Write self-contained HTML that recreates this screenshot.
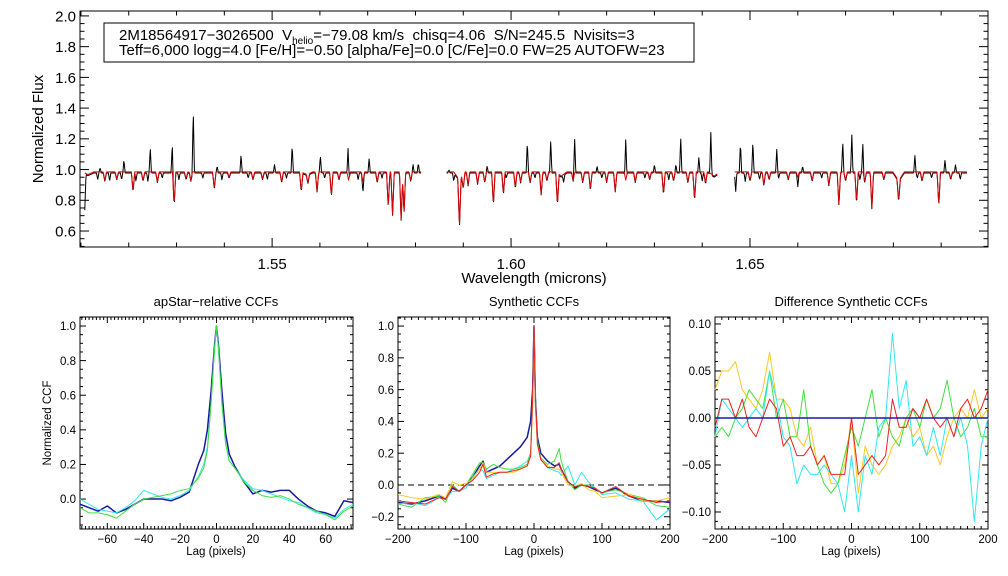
<!DOCTYPE html>
<html><head><meta charset="utf-8"><style>
html,body{margin:0;padding:0;background:#fff;}
svg{display:block;font-family:"Liberation Sans",sans-serif;}
</style></head><body>
<svg id="fig" width="1008" height="576" viewBox="0 0 1008 576">
<rect x="0" y="0" width="1008" height="576" fill="#fff"/>
</svg>
<script>
// ---------- spectrum data ----------
const segStart = [1.5108, 1.5865, 1.6468];
const segEnd   = [1.5812, 1.6432, 1.6955];
const spikeWl   = [1.5190,1.5245,1.5291,1.5335,1.5435,1.5542,1.5601,1.5659,1.5703,1.5806,1.6034,1.6083,1.6133,1.6240,1.6355,1.6393,1.6418,1.6480,1.6506,1.6556,1.6694,1.6713,1.6736,1.6845,1.6908,1.5140,1.5385,1.5505,1.5950,1.6180,1.6300,1.6610,1.5795,1.5870,1.6345,1.6930];
const spikeFlux = [1.07,1.15,1.17,1.75,1.19,1.17,1.10,1.19,1.08,1.05,1.19,1.20,1.22,1.26,1.22,1.09,1.26,1.29,1.19,1.14,1.19,1.24,1.18,1.10,1.07,1.02,1.03,1.04,1.03,1.03,1.04,1.03,1.04,1.07,1.04,1.04];
const absWl    = [1.5209,1.5295,1.5379,1.5561,1.5594,1.5624,1.5743,1.5752,1.5770,1.5776,1.5892,1.5963,1.5984,1.6009,1.6063,1.6097,1.6166,1.6218,1.6319,1.6384,1.6407,1.6529,1.6665,1.6686,1.6723,1.6755,1.6811,1.6895,1.5150,1.5260,1.5330,1.5480,1.5520,1.5660,1.5690,1.5910,1.5930,1.6040,1.6130,1.6200,1.6260,1.6340,1.6500,1.6580,1.6630,1.6780,1.6860,1.5175,1.5230,1.5320,1.5410,1.5460,1.5575,1.5640,1.5720,1.5790,1.5900,1.5945,1.6020,1.6075,1.6150,1.6240,1.6290,1.6370,1.6540,1.6600,1.6700,1.6740,1.6920];
const absFlux  = [0.86,0.77,0.88,0.86,0.86,0.83,0.76,0.70,0.67,0.72,0.68,0.77,0.84,0.88,0.84,0.78,0.87,0.86,0.84,0.80,0.91,0.90,0.90,0.77,0.78,0.75,0.85,0.77,0.93,0.92,0.93,0.94,0.92,0.93,0.92,0.90,0.91,0.92,0.93,0.92,0.92,0.93,0.93,0.94,0.93,0.94,0.93,0.94,0.93,0.94,0.95,0.94,0.93,0.94,0.92,0.93,0.90,0.92,0.92,0.93,0.92,0.93,0.94,0.92,0.94,0.95,0.93,0.92,0.94];
const broadWl   = [1.5892,1.6105,1.6811,1.5573,1.6425,1.5115];
const broadFlux = [0.88,0.93,0.87,0.95,0.93,0.95];
const dipWl   = [1.5108,1.5335,1.5435,1.6470,1.6480,1.5240,1.5690,1.6600,1.5135,1.5160,1.5185,1.5215,1.5270,1.5305,1.5355,1.5395,1.5450,1.5490,1.5530,1.5610,1.5680,1.5730,1.5870,1.5880,1.5990,1.6050,1.6110,1.6190,1.6280,1.6330,1.6400,1.6490,1.6520,1.6560,1.6650,1.6730,1.6850,1.6880,1.6940];
const dipFlux = [0.75,0.63,0.90,0.86,0.88,0.93,0.92,0.93,0.94,0.93,0.94,0.93,0.95,0.94,0.95,0.94,0.95,0.94,0.95,0.95,0.94,0.95,0.92,0.93,0.95,0.95,0.94,0.95,0.95,0.94,0.93,0.93,0.94,0.95,0.95,0.94,0.95,0.95,0.94];
// ---------- CCF data ----------
const lag1 = [-75,-70,-65,-60,-55,-50,-45,-40,-35,-30,-25,-20,-15,-10,-7,-5,-3,-1,0,1,3,5,7,10,15,20,25,30,35,40,45,50,55,60,65,70,75];
const ccf1Blue  = [-0.03,-0.05,-0.07,-0.04,-0.08,-0.06,-0.03,0.0,0.0,0.0,-0.01,0.01,0.04,0.20,0.28,0.40,0.62,0.90,1.0,0.90,0.62,0.38,0.26,0.19,0.10,0.03,0.05,0.04,0.05,0.05,0.0,-0.04,-0.07,-0.08,-0.10,-0.01,-0.02];
const ccf1Cyan  = [0.0,-0.03,-0.06,-0.07,-0.08,-0.05,-0.01,0.05,0.03,0.01,0.0,0.02,0.05,0.13,0.20,0.30,0.55,0.88,1.0,0.88,0.55,0.32,0.22,0.18,0.11,0.06,0.05,0.03,0.01,-0.01,-0.02,-0.05,-0.08,-0.09,-0.11,-0.06,-0.03];
const ccf1Green = [-0.05,-0.08,-0.08,-0.09,-0.11,-0.07,-0.03,0.0,0.01,0.02,0.03,0.05,0.06,0.12,0.18,0.28,0.55,0.88,1.0,0.88,0.55,0.32,0.22,0.18,0.10,0.05,0.02,0.01,0.02,0.0,-0.03,-0.05,-0.07,-0.09,-0.12,-0.07,-0.04];
const lag2 = [-200,-180,-160,-140,-130,-120,-110,-100,-90,-80,-75,-70,-60,-50,-40,-30,-20,-10,-5,-2,0,2,5,10,20,30,37,40,50,60,70,80,90,100,120,140,160,180,200];
const ccf2Blue  = [-0.11,-0.12,-0.10,-0.07,-0.09,-0.02,-0.04,0.0,0.05,0.12,0.15,0.08,0.10,0.12,0.16,0.20,0.24,0.30,0.40,0.60,1.0,0.55,0.30,0.20,0.15,0.12,0.13,0.10,0.02,-0.02,0.0,-0.01,-0.03,-0.05,-0.02,-0.07,-0.10,-0.10,-0.11];
const ccf2Cyan  = [-0.12,-0.11,-0.13,-0.08,-0.09,-0.04,-0.04,-0.02,0.05,0.10,0.09,0.04,0.06,0.08,0.08,0.10,0.12,0.15,0.20,0.50,0.95,0.50,0.25,0.16,0.11,0.09,0.08,0.06,0.12,0.0,0.08,0.02,-0.02,-0.06,-0.05,-0.09,-0.10,-0.22,-0.15];
const ccf2Green = [-0.12,-0.14,-0.08,-0.07,-0.11,0.0,-0.04,0.0,0.07,0.14,0.14,0.10,0.13,0.11,0.10,0.10,0.11,0.13,0.20,0.55,0.98,0.55,0.28,0.17,0.13,0.15,0.23,0.15,0.02,-0.03,0.0,0.0,-0.02,-0.05,-0.03,-0.06,-0.08,-0.13,-0.14];
const ccf2Gold  = [-0.06,-0.08,-0.09,-0.06,-0.08,0.02,0.0,0.01,0.04,0.10,0.14,0.08,0.08,0.08,0.08,0.08,0.10,0.12,0.18,0.50,0.98,0.52,0.25,0.16,0.12,0.10,0.10,0.08,0.0,-0.01,0.01,-0.03,-0.04,-0.08,-0.07,-0.06,-0.10,-0.10,-0.08];
const ccf2Red   = [-0.10,-0.11,-0.12,-0.08,-0.09,-0.01,-0.04,0.0,0.03,0.08,0.13,0.05,0.07,0.08,0.08,0.09,0.10,0.12,0.18,0.55,1.0,0.55,0.26,0.16,0.11,0.11,0.14,0.10,0.02,-0.01,0.0,-0.01,-0.02,-0.05,-0.01,-0.07,-0.09,-0.11,-0.10];
const lag3 = [-200,-190,-180,-170,-160,-150,-140,-130,-120,-110,-100,-90,-80,-70,-60,-50,-40,-30,-20,-10,0,10,20,30,40,50,60,70,80,90,100,110,120,130,140,150,160,170,180,190,200];
const diffBlue  = [0,0,0,0,0,0,0,0,0,0,0,0,0,0,0,0,0,0,0,0,0,0,0,0,0,0,0,0,0,0,0,0,0,0,0,0,0,0,0,0,0];
const diffGold  = [0.03,0.05,0.05,0.06,0.03,0.02,0.01,0.03,0.07,0.02,0.02,0.01,-0.02,-0.03,-0.01,-0.05,-0.04,-0.07,-0.07,-0.05,0.0,-0.08,-0.03,-0.05,-0.06,-0.05,-0.03,-0.02,0.0,-0.02,-0.01,-0.04,-0.03,-0.05,-0.02,0.0,0.01,0.0,0.03,0.0,0.01];
const diffRed   = [-0.01,0.02,0.02,0.0,0.02,-0.01,-0.02,0.0,0.02,0.01,-0.03,-0.02,-0.04,-0.04,-0.03,-0.05,-0.04,-0.06,-0.06,-0.06,0.0,-0.06,-0.05,-0.04,-0.05,-0.04,0.02,-0.01,-0.01,0.01,0.0,0.02,0.0,-0.01,0.0,-0.02,0.01,0.02,0.0,0.01,0.03];
const diffGreen = [-0.02,-0.01,-0.02,0.0,0.01,0.03,0.02,0.01,0.05,0.0,0.02,-0.02,-0.02,0.03,-0.03,-0.05,-0.07,-0.08,-0.07,-0.04,-0.01,-0.03,0.0,0.03,-0.02,0.0,-0.02,-0.03,0.0,0.01,-0.01,0.02,0.0,0.01,0.04,0.0,-0.02,-0.01,0.01,-0.02,-0.02];
const diffCyan  = [-0.02,0.02,0.01,0.0,-0.01,0.0,0.01,0.0,0.05,0.02,-0.02,-0.03,-0.07,-0.05,-0.06,-0.06,-0.05,-0.06,-0.07,-0.10,-0.04,-0.10,-0.04,-0.06,-0.01,0.0,0.09,0.01,0.04,-0.03,-0.02,-0.04,-0.01,-0.04,0.0,-0.02,0.0,-0.03,-0.11,-0.03,0.0];

const NS='http://www.w3.org/2000/svg';
const svg=document.getElementById('fig');
function mk(tag,attrs,parent){const e=document.createElementNS(NS,tag);for(const k in attrs)e.setAttribute(k,attrs[k]);(parent||svg).appendChild(e);return e;}
function txt(s,x,y,size,anchor,parent){const t=mk('text',{x:x,y:y,'font-size':size,'text-anchor':anchor||'middle',fill:'#000'},parent);t.textContent=s;return t;}

function makeAxes(p){
  const g=mk('g',{});
  
  
  const sx=v=>p.x0+(v-p.xmin)/(p.xmax-p.xmin)*(p.x1-p.x0);
  const sy=v=>p.y1-(v-p.ymin)/(p.ymax-p.ymin)*(p.y1-p.y0);
  const ax=mk('g',{stroke:'#000','stroke-width':1,fill:'none'},g);
  
  
  mk('rect',{x:p.x0,y:p.y0,width:p.x1-p.x0,height:p.y1-p.y0},ax);
  const e=1e-9;
  for(let v=Math.ceil(p.xmin/p.xminor-e)*p.xminor;v<=p.xmax+e;v+=p.xminor){
    const maj=Math.abs(v/p.xmajor-Math.round(v/p.xmajor))<1e-6;const L=maj?p.tl:p.tl/2;const X=sx(v);
    mk('line',{x1:X,x2:X,y1:p.y1,y2:p.y1-L},ax);mk('line',{x1:X,x2:X,y1:p.y0,y2:p.y0+L},ax);
    if(maj && !(p.skipEdge && X>p.x1-3)){const t=txt(p.xfmt(v),X,p.y1+p.xlo,p.fs,'middle',g);}
  }
  for(let v=Math.ceil(p.ymin/p.yminor-e)*p.yminor;v<=p.ymax+e;v+=p.yminor){
    const maj=Math.abs(v/p.ymajor-Math.round(v/p.ymajor))<1e-6;const L=maj?p.tl:p.tl/2;const Y=sy(v);
    mk('line',{x1:p.x0,x2:p.x0+L,y1:Y,y2:Y},ax);mk('line',{x1:p.x1,x2:p.x1-L,y1:Y,y2:Y},ax);
    if(maj){const t=txt(p.yfmt(v),p.x0-4,Y+p.fs*0.36,p.fs,'end',g);}
  }
  return {g,sx,sy};
}
function fmt(d){return v=>{let s=(Math.abs(v)<1e-9?0:v).toFixed(d);return s.replace('-','\u2212');};}
function line(A,xs,ys,color,w,name,dash){
  let d='';xs.forEach((x,i)=>{d+=(i?'L':'M')+A.sx(x).toFixed(2)+','+A.sy(ys[i]).toFixed(2);});
  const p=mk('path',{d:d,stroke:color,'stroke-width':w||1,fill:'none','stroke-linejoin':'round'},A.g);
  if(dash)p.setAttribute('stroke-dasharray',dash);
  
  
  return p;
}

// ---------- top spectrum ----------
const T=makeAxes({name:'spectrum-panel',x0:80,x1:988,y0:11,y1:247,xmin:1.5098,xmax:1.6998,ymin:0.496,ymax:2.032,
  xmajor:0.05,xminor:0.01,ymajor:0.2,yminor:0.05,tl:9,fs:15,xlo:22,xfmt:fmt(2),yfmt:fmt(1),skipEdge:true});
function buildSpec(withObs){
  const segsX=[],segsY=[];
  for(let s=0;s<segStart.length;s++){
    const xs=[],ys=[];
    const step=1/9548;
    for(let w=segStart[s];w<=segEnd[s];w+=step){
      let f=withObs?0.978:0.985;
      absWl.forEach((a,i)=>{const dx=Math.abs(w-a)/0.00035;if(dx<1)f-=(0.985-absFlux[i])*(1-dx);});
      broadWl.forEach((a,i)=>{const dx=Math.abs(w-a)/0.0012;if(dx<1)f-=(0.985-broadFlux[i])*(1-dx)*0.5;});
      if(withObs){
        spikeWl.forEach((a,i)=>{const dx=Math.abs(w-a)/0.00025;if(dx<1)f+=(spikeFlux[i]-0.985)*(1-dx);});
        dipWl.forEach((a,i)=>{const dx=Math.abs(w-a)/0.00025;if(dx<1)f-=(0.985-dipFlux[i])*(1-dx);});
      }
      xs.push(w);ys.push(f);
    }
    segsX.push(xs);segsY.push(ys);
  }
  return [segsX,segsY];
}
const obs=buildSpec(true);
obs[0].forEach((xs,i)=>{line(T,xs,obs[1][i],'#000',1,'observed-spectrum-seg'+(i+1));});
const mod=buildSpec(false);
mod[0].forEach((xs,i)=>{line(T,xs,mod[1][i],'#e00000',1,'model-spectrum-seg'+(i+1));});
let t;
t=txt('Wavelength (microns)',534,283,15,'middle');
t=txt('Normalized Flux',0,0,15,'middle');t.setAttribute('transform','translate(43,129) rotate(-90)');
const box=mk('g',{});


mk('rect',{x:104,y:23,width:590,height:39,fill:'#fff',stroke:'#000','stroke-width':1},box);
const l1=mk('text',{x:119,y:40,'font-size':15,fill:'#000'},box);
l1.innerHTML='2M18564917\u22123026500\u00a0\u00a0V<tspan font-size="10" dy="4">helio</tspan><tspan dy="-4">=\u221279.08 km/s\u00a0\u00a0chisq=4.06\u00a0\u00a0S/N=245.5\u00a0\u00a0Nvisits=3</tspan>';
const l2=txt('Teff=6,000 logg=4.0 [Fe/H]=\u22120.50 [alpha/Fe]=0.0 [C/Fe]=0.0 FW=25 AUTOFW=23',119,55,15,'start',box);

// ---------- bottom panels ----------
const P1=makeAxes({name:'apstar-ccf-panel',x0:80,x1:353,y0:317,y1:529,xmin:-75,xmax:75,ymin:-0.173,ymax:1.052,
  xmajor:20,xminor:2,ymajor:0.2,yminor:0.05,tl:6,fs:11.5,xlo:14,xfmt:fmt(0),yfmt:fmt(1)});
line(P1,lag1,ccf1Blue,'#1a1aa0',1.5,'ccf1-blue');
line(P1,lag1,ccf1Cyan,'#30e8f0',1,'ccf1-cyan');
line(P1,lag1,ccf1Green,'#40e040',1,'ccf1-green');
t=txt('apStar\u2212relative CCFs',216,306,13);
t=txt('Lag (pixels)',216,555,11.5);
t=txt('Normalized CCF',0,0,11.5);t.setAttribute('transform','translate(51,423) rotate(-90)');

const P2=makeAxes({name:'synthetic-ccf-panel',x0:398,x1:670,y0:317,y1:529,xmin:-200,xmax:200,ymin:-0.277,ymax:1.057,
  xmajor:100,xminor:10,ymajor:0.2,yminor:0.05,tl:6,fs:11.5,xlo:14,xfmt:fmt(0),yfmt:fmt(1)});
line(P2,[-200,200],[0,0],'#000',1,'zero-line','6,4');
line(P2,lag2,ccf2Blue,'#1a1aa0',1.5,'ccf2-blue');
line(P2,lag2,ccf2Cyan,'#30e8f0',1,'ccf2-cyan');
line(P2,lag2,ccf2Green,'#40e040',1,'ccf2-green');
line(P2,lag2,ccf2Gold,'#ffc820',1,'ccf2-gold');
line(P2,lag2,ccf2Red,'#f02020',1,'ccf2-red');
t=txt('Synthetic CCFs',534,306,13);
t=txt('Lag (pixels)',534,555,11.5);

const P3=makeAxes({name:'difference-ccf-panel',x0:715,x1:988,y0:317,y1:529,xmin:-200,xmax:200,ymin:-0.1181,ymax:0.1074,
  xmajor:100,xminor:10,ymajor:0.05,yminor:0.01,tl:6,fs:11.5,xlo:14,xfmt:fmt(0),yfmt:fmt(2)});
line(P3,lag3,diffGold,'#ffc820',1,'diff-gold');
line(P3,lag3,diffGreen,'#40e040',1,'diff-green');
line(P3,lag3,diffCyan,'#30e8f0',1,'diff-cyan');
line(P3,lag3,diffRed,'#f02020',1,'diff-red');
line(P3,lag3,diffBlue,'#1a1aa0',1.5,'diff-blue');
t=txt('Difference Synthetic CCFs',851,306,13);
t=txt('Lag (pixels)',851,555,11.5);
</script>
</body></html>
